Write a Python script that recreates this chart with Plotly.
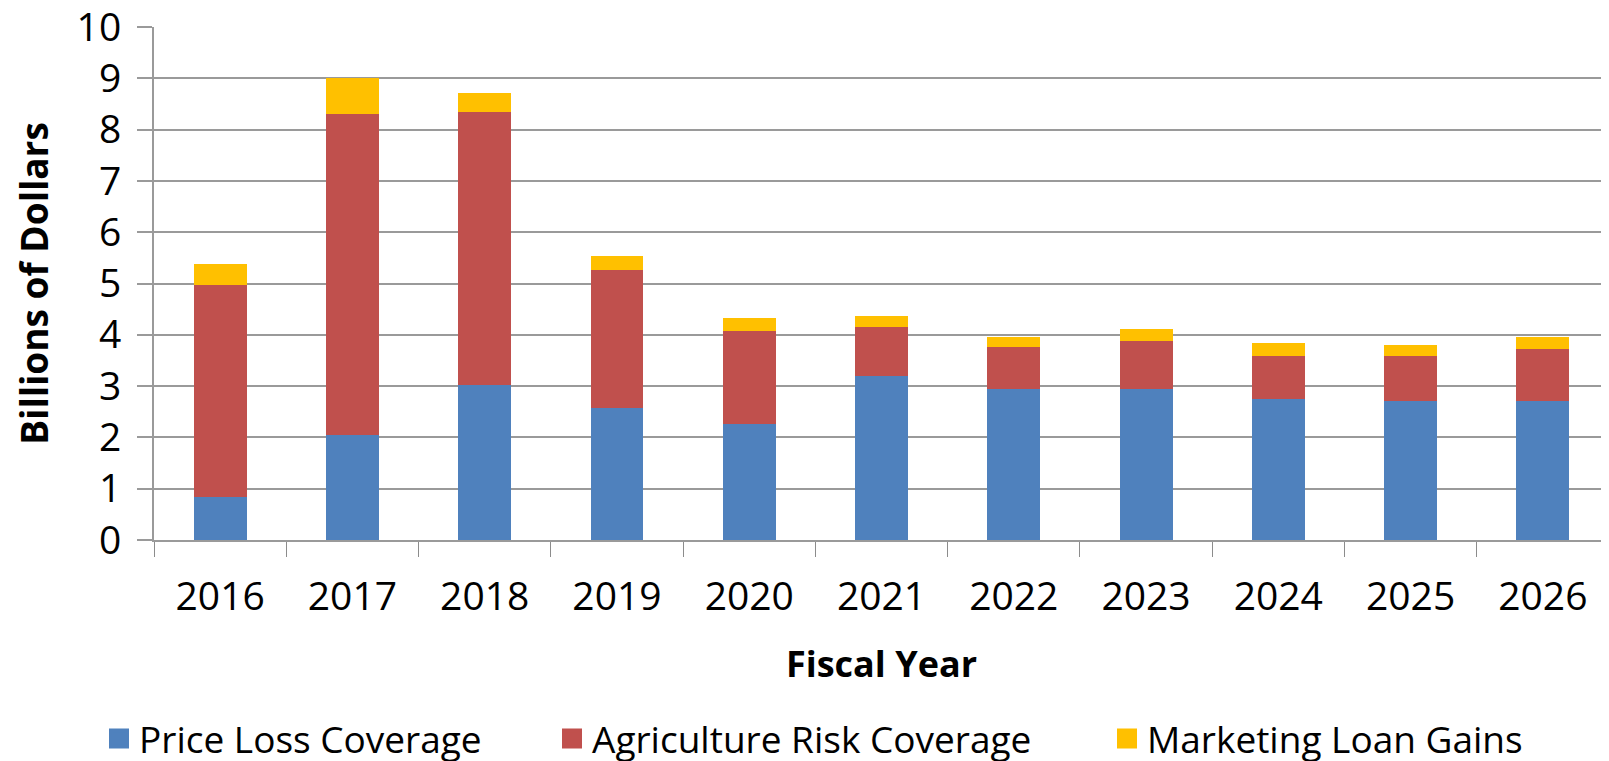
import plotly.graph_objects as go

years = ["2016", "2017", "2018", "2019", "2020", "2021", "2022", "2023", "2024", "2025", "2026"]
plc = [0.84, 2.05, 3.02, 2.58, 2.26, 3.19, 2.95, 2.95, 2.74, 2.70, 2.70]
arc = [4.14, 6.26, 5.33, 2.68, 1.82, 0.97, 0.81, 0.92, 0.85, 0.89, 1.02]
mlg = [0.40, 0.69, 0.37, 0.28, 0.25, 0.21, 0.20, 0.25, 0.25, 0.21, 0.24]

series = [
    ("Price Loss Coverage", plc, "#4F81BD", "legend"),
    ("Agriculture Risk Coverage", arc, "#C0504D", "legend2"),
    ("Marketing Loan Gains", mlg, "#FFC000", "legend3"),
]

# page body has an 8px default margin, so the figure is sized to fill the rest of the window
W, H = 1601, 753
FONT = "Open Sans"
fig = go.Figure()
for name, vals, color, lg in series:
    fig.add_trace(go.Bar(x=years, y=vals, name=name, marker=dict(color=color, line=dict(width=0)),
                         showlegend=False, legendgroup=name))
for name, vals, color, lg in series:
    fig.add_trace(go.Scatter(x=[None], y=[None], mode="markers", name=name, legendgroup=name,
                             marker=dict(symbol="square", size=16, color=color, line=dict(color=color, width=4)),
                             legend=lg, showlegend=True))

legend_common = dict(orientation="h", xref="container", yref="container", y=1 - 731 / H, yanchor="middle",
                     xanchor="left", font=dict(family=FONT, size=37, color="#000"), bgcolor="rgba(0,0,0,0)")

fig.update_layout(
    width=W, height=H,
    margin=dict(l=146, r=0, t=19, b=221, autoexpand=False),
    paper_bgcolor="white", plot_bgcolor="white",
    barmode="stack", bargap=0.6,
    font=dict(family=FONT, color="#000"),
    legend=dict(x=91 / W, **legend_common),
    legend2=dict(x=544 / W, **legend_common),
    legend3=dict(x=1099 / W, **legend_common),
    xaxis=dict(
        type="category", tickson="boundaries", ticks="outside", ticklen=15, tickwidth=1, tickcolor="#8c8c8c",
        showline=True, linecolor="#9a9a9a", linewidth=2, showgrid=False, automargin=False,
        tickfont=dict(family=FONT, size=39, color="#000"), ticklabelstandoff=21, ticklabeloverflow="allow",
        title=dict(text="<b>Fiscal Year</b>", font=dict(family=FONT, size=36, color="#000"), standoff=32),
    ),
    yaxis=dict(
        range=[0, 10], dtick=1, tick0=0, showgrid=True, gridcolor="#9a9a9a", gridwidth=2,
        ticks="outside", ticklen=15, tickwidth=2, tickcolor="#9a9a9a", automargin=False,
        showline=True, linecolor="#9a9a9a", linewidth=2, zeroline=False,
        tickfont=dict(family=FONT, size=39, color="#000"), ticklabelstandoff=8, ticklabeloverflow="allow",
        title=dict(text="<b>Billions of Dollars</b>", font=dict(family=FONT, size=37, color="#000"), standoff=38),
    ),
)

fig.write_html("out.html")
